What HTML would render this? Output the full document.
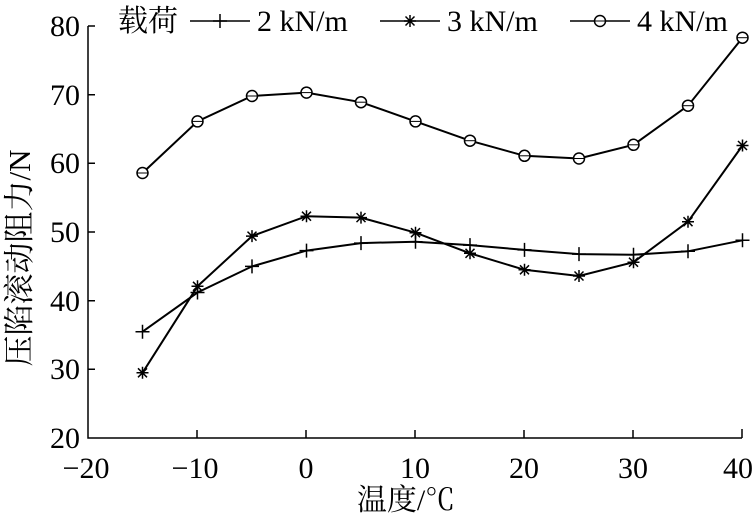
<!DOCTYPE html>
<html><head><meta charset="utf-8"><style>body{margin:0;background:#fff}svg{display:block}text{font-family:"Liberation Serif","Noto Serif CJK SC",serif;fill:#000}</style></head><body>
<svg width="752" height="517" viewBox="0 0 752 517">
<defs>
<g id="plus"><path d="M-7 0H7M0-7V7" stroke="#000" stroke-width="1.5"/></g>
<g id="star"><path d="M-6 0H6M0-6V6M-4.5-4.5L4.5 4.5M-4.5 4.5L4.5-4.5" stroke="#000" stroke-width="1.5"/></g>
<g id="circ"><circle r="5.5" fill="#fff" stroke="#000" stroke-width="1.5"/><path d="M-5.5 0H5.5" stroke="#000" stroke-width="1"/></g>
</defs>
<g stroke="#000" stroke-width="1.5" fill="none">
<path d="M88 26V438H742"/>
<path d="M88 26h7M88 94.7h7M88 163.3h7M88 232h7M88 300.7h7M88 369.3h7"/>
<path d="M197 438v-8M306 438v-8M415 438v-8M524 438v-8M633 438v-8M742 438v-9"/>
</g>
<g font-size="30" text-anchor="end">
<text x="80" y="36">80</text><text x="80" y="105">70</text><text x="80" y="173">60</text><text x="80" y="242">50</text><text x="80" y="311">40</text><text x="80" y="379">30</text><text x="80" y="448">20</text>
</g>
<g font-size="30" text-anchor="middle">
<text x="86" y="478">−20</text><text x="195" y="478">−10</text><text x="306" y="478">0</text><text x="415" y="478">10</text><text x="524" y="478">20</text><text x="633" y="478">30</text><text x="738" y="478">40</text>
</g>
<text x="406" y="510" font-size="30" text-anchor="middle">温度/℃</text>
<text transform="translate(30,258) rotate(-90)" font-size="31" text-anchor="middle">压陷滚动阻力/N</text>
<g font-size="30">
<text x="118" y="31">载荷</text>
<path d="M190 21H250" stroke="#000" stroke-width="1.5"/><use href="#plus" x="220" y="21"/>
<text x="257" y="31">2 kN/m</text>
<path d="M380 21H440" stroke="#000" stroke-width="1.5"/><use href="#star" x="410" y="21"/>
<text x="447" y="31">3 kN/m</text>
<path d="M570 21H630" stroke="#000" stroke-width="1.5"/><use href="#circ" x="600" y="21"/>
<text x="637" y="31">4 kN/m</text>
</g>
<g fill="none" stroke="#000" stroke-width="2">
<polyline points="142.5,331.7 197.5,292.5 252,266.4 306.5,250.6 361,243.1 415.5,241.7 470,245.1 524.5,249.9 579,254.1 633.5,254.7 688,251.3 742.5,240.3"/>
<polyline points="142.5,372.8 197.5,286.3 252,236.1 306.5,216.2 361,217.6 415.5,232.7 470,253.3 524.5,269.8 579,276 633.5,262.2 688,221.7 742.5,145.5"/>
<polyline points="142.5,173 197.5,121.4 252,96 306.5,92.6 361,102.2 415.5,121.4 470,140.7 524.5,155.8 579,158.5 633.5,144.8 688,105.7 742.5,37.7"/>
</g>
<g>
<use href="#plus" x="142.5" y="331.7"/><use href="#plus" x="197.5" y="292.5"/><use href="#plus" x="252" y="266.4"/><use href="#plus" x="306.5" y="250.6"/><use href="#plus" x="361" y="243.1"/><use href="#plus" x="415.5" y="241.7"/><use href="#plus" x="470" y="245.1"/><use href="#plus" x="524.5" y="249.9"/><use href="#plus" x="579" y="254.1"/><use href="#plus" x="633.5" y="254.7"/><use href="#plus" x="688" y="251.3"/><use href="#plus" x="742.5" y="240.3"/>
<use href="#star" x="142.5" y="372.8"/><use href="#star" x="197.5" y="286.3"/><use href="#star" x="252" y="236.1"/><use href="#star" x="306.5" y="216.2"/><use href="#star" x="361" y="217.6"/><use href="#star" x="415.5" y="232.7"/><use href="#star" x="470" y="253.3"/><use href="#star" x="524.5" y="269.8"/><use href="#star" x="579" y="276"/><use href="#star" x="633.5" y="262.2"/><use href="#star" x="688" y="221.7"/><use href="#star" x="742.5" y="145.5"/>
<use href="#circ" x="142.5" y="173"/><use href="#circ" x="197.5" y="121.4"/><use href="#circ" x="252" y="96"/><use href="#circ" x="306.5" y="92.6"/><use href="#circ" x="361" y="102.2"/><use href="#circ" x="415.5" y="121.4"/><use href="#circ" x="470" y="140.7"/><use href="#circ" x="524.5" y="155.8"/><use href="#circ" x="579" y="158.5"/><use href="#circ" x="633.5" y="144.8"/><use href="#circ" x="688" y="105.7"/><use href="#circ" x="742.5" y="37.7"/>
</g>
</svg>
</body></html>
